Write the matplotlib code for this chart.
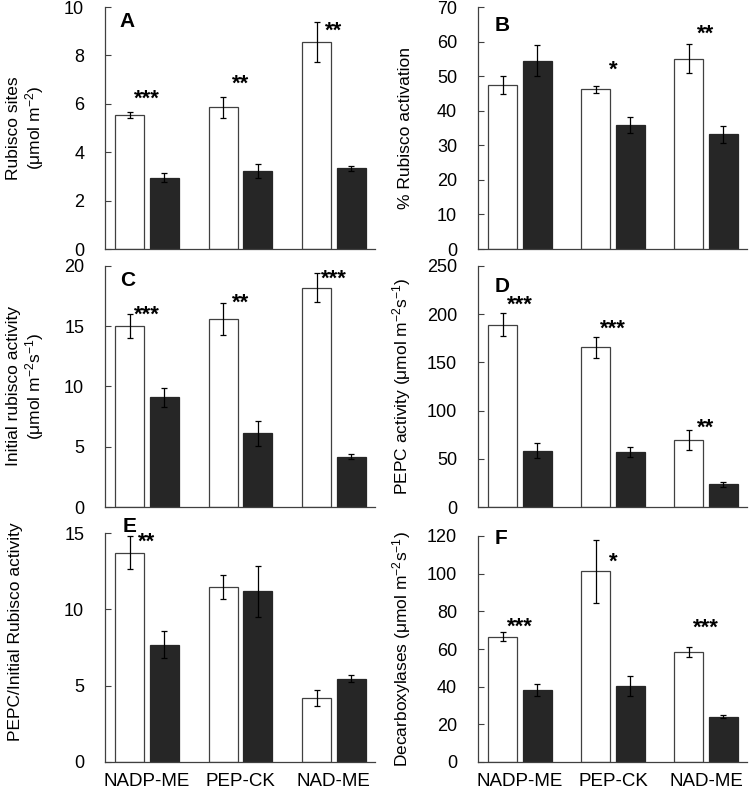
import matplotlib
matplotlib.use('Agg')
import matplotlib.pyplot as plt
import numpy as np

plt.rcParams['font.family'] = ['Liberation Sans', 'DejaVu Sans']
plt.rcParams['mathtext.default'] = 'regular'

# Datos
grupos = ['NADP-ME', 'PEP-CK', 'NAD-ME']

sitios_w = [5.54, 5.85, 8.55]
sitios_w_err = [0.14, 0.43, 0.81]
sitios_b = [2.95, 3.24, 3.34]
sitios_b_err = [0.17, 0.29, 0.11]

activacion_w = [47.5, 46.2, 55.1]
activacion_w_err = [2.6, 1.0, 4.2]
activacion_b = [54.4, 35.9, 33.2]
activacion_b_err = [4.5, 2.3, 2.5]

inicial_w = [15.0, 15.6, 18.2]
inicial_w_err = [1.0, 1.33, 1.2]
inicial_b = [9.1, 6.1, 4.16]
inicial_b_err = [0.78, 1.04, 0.2]

pepc_w = [189, 165.5, 69.7]
pepc_w_err = [12, 11.3, 10.3]
pepc_b = [58.5, 56.8, 23.4]
pepc_b_err = [7.5, 5.4, 2.3]

ratio_w = [13.72, 11.45, 4.2]
ratio_w_err = [1.09, 0.79, 0.51]
ratio_b = [7.68, 11.17, 5.46]
ratio_b_err = [0.89, 1.65, 0.25]

decarb_w = [66.5, 101.3, 58.2]
decarb_w_err = [2.4, 16.8, 2.6]
decarb_b = [38.3, 40.2, 24.1]
decarb_b_err = [3.3, 5.3, 1.0]

# asteriscos: (grupo, texto, y)
sig_A = [(0, '***', 6.2), (1, '**', 6.8), (2, '**', 9.0)]
sig_B = [(1, '*', 51.8), (2, '**', 62.0)]
sig_C = [(0, '***', 15.9), (1, '**', 16.9), (2, '***', 18.9)]
sig_D = [(0, '***', 209), (1, '***', 184), (2, '**', 82)]
sig_E = [(0, '**', 14.4)]
sig_F = [(0, '***', 71.8), (1, '*', 106), (2, '***', 71)]

W, H = 750, 801
fig = plt.figure(figsize=(W / 100, H / 100), dpi=100)

def panel(rect, w, we, b, be, ymax, step, ylabel, letra, letra_pos, sig,
          xlabels=False, ylab_xy=None):
    l, t, r, bt = rect
    ax = fig.add_axes([l / W, 1 - bt / H, (r - l) / W, (bt - t) / H])
    x = np.arange(len(grupos))
    ancho = 0.31
    ek = dict(elinewidth=0.9, capsize=2, capthick=0.9, ecolor='black')
    ax.bar(x - 0.185, w, ancho, yerr=we, color='white', edgecolor='#404040',
           linewidth=0.9, error_kw=ek)
    ax.bar(x + 0.185, b, ancho, yerr=be, color='#262626', edgecolor='#262626',
           linewidth=0.9, error_kw=ek)
    for g, s, y in sig:
        ax.text(g, y, s, ha='center', va='center', fontsize=16,
                fontweight='bold')
    ax.set_xlim(-0.45, 2.44)
    ax.set_ylim(0, ymax)
    ax.set_yticks(np.arange(0, ymax + step / 2, step))
    ax.spines['top'].set_visible(False)
    ax.spines['right'].set_visible(False)
    for s in ['left', 'bottom']:
        ax.spines[s].set_color('#404040')
        ax.spines[s].set_linewidth(0.9)
    ax.tick_params(axis='y', labelsize=13, length=4, direction='in',
                   color='#404040', pad=15)
    ax.tick_params(axis='x', length=0, labelsize=13.5, pad=8)
    if xlabels:
        ax.set_xticks(x)
        ax.set_xticklabels(grupos)
    else:
        ax.set_xticks([])
    ax.set_ylabel(ylabel, fontsize=12.5, linespacing=1.1)
    if ylab_xy is not None:
        ax.yaxis.set_label_coords(*ylab_xy)
    ax.text(letra_pos[0], letra_pos[1], letra, transform=ax.transAxes,
            fontsize=15, fontweight='bold', va='center')
    return ax

panel((105, 7, 375, 249), sitios_w, sitios_w_err, sitios_b, sitios_b_err,
      10, 2, 'Rubisco sites\n(μmol m$^{-2}$)', 'A', (0.055, 0.94), sig_A,
      ylab_xy=(-0.22, 0.5))
panel((478, 7, 747, 249), activacion_w, activacion_w_err, activacion_b,
      activacion_b_err, 70, 10, '% Rubisco activation', 'B', (0.06, 0.925),
      sig_B, ylab_xy=(-0.24, 0.5))
panel((105, 266, 375, 507), inicial_w, inicial_w_err, inicial_b,
      inicial_b_err, 20, 5, 'Initial rubisco activity\n(μmol m$^{-2}$s$^{-1}$)',
      'C', (0.055, 0.94), sig_C, ylab_xy=(-0.22, 0.5))
panel((478, 266, 747, 507), pepc_w, pepc_w_err, pepc_b, pepc_b_err,
      250, 50, 'PEPC activity (μmol m$^{-2}$s$^{-1}$)', 'D', (0.06, 0.915),
      sig_D, ylab_xy=(-0.24, 0.5))
panel((105, 533, 375, 762), ratio_w, ratio_w_err, ratio_b, ratio_b_err,
      15, 5, 'PEPC/Initial Rubisco activity', 'E', (0.065, 1.03), sig_E,
      xlabels=True, ylab_xy=(-0.305, 0.57))
panel((478, 536, 747, 762), decarb_w, decarb_w_err, decarb_b, decarb_b_err,
      120, 20, 'Decarboxylases (μmol m$^{-2}$s$^{-1}$)', 'F', (0.06, 0.99),
      sig_F, xlabels=True, ylab_xy=(-0.24, 0.5))

fig.savefig('out.png', dpi=100)
